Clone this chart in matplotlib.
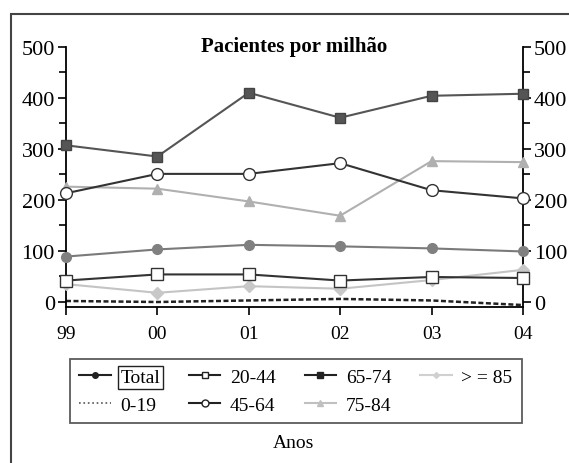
import numpy as np
import matplotlib.pyplot as plt
from matplotlib.patches import Rectangle
from matplotlib.lines import Line2D

plt.rcParams['font.family'] = ['Liberation Serif', 'DejaVu Serif']

years = ['99', '00', '01', '02', '03', '04']
total = [89, 103, 112, 109, 105, 99]
age_0_19 = [2, 0, 3, 6, 3, -6]
age_20_44 = [42, 54, 54, 42, 49, 47]
age_45_64 = [213, 251, 251, 272, 219, 203]
age_65_74 = [307, 285, 410, 361, 404, 408]
age_75_84 = [226, 222, 197, 169, 276, 274]
age_85 = [35, 18, 31, 26, 43, 63]

x = np.arange(len(years))

fig = plt.figure(figsize=(5.69, 4.64), dpi=100)
ax = fig.add_axes([0.116, 0.336, 0.803, 0.561])

ax.plot(x, age_0_19, '--', color='#222222', lw=1.8, dashes=(2, 1.0), label='0-19', zorder=2, clip_on=False)
ax.plot(x, age_85, '-', color='#c4c4c4', lw=1.5, marker='D', ms=6, mfc='#c8c8c8', mec='#c8c8c8', label='> = 85', zorder=3, clip_on=False)
ax.plot(x, age_20_44, '-', color='#333333', lw=1.5, marker='s', ms=8, mfc='white', mec='#333333', label='20-44', zorder=4, clip_on=False)
ax.plot(x, total, '-', color='#7a7a7a', lw=1.5, marker='o', ms=7, mfc='#808080', mec='#808080', label='Total', zorder=4, clip_on=False)
ax.plot(x, age_75_84, '-', color='#b0b0b0', lw=1.5, marker='^', ms=7, mfc='#b0b0b0', mec='#b0b0b0', label='75-84', zorder=3, clip_on=False)
ax.plot(x, age_45_64, '-', color='#333333', lw=1.5, marker='o', ms=8.5, mfc='white', mec='#333333', label='45-64', zorder=4, clip_on=False)
ax.plot(x, age_65_74, '-', color='#555555', lw=1.5, marker='s', ms=7.5, mfc='#555555', mec='#444444', label='65-74', zorder=4, clip_on=False)

ax.set_xlim(0, len(years) - 1)
ax.set_ylim(-10, 500)
ax.set_xticks(x)
ax.set_xticklabels(years, fontsize=14)
ax.set_yticks([0, 100, 200, 300, 400, 500])
ax.set_yticks([50, 150, 250, 350, 450], minor=True)
ax.tick_params(axis='y', labelsize=16, length=6, width=1.2, direction='out', pad=2)
ax.tick_params(axis='y', which='minor', length=5, width=1.2)
ax.tick_params(axis='x', length=6, width=1.2, direction='out', pad=7)
ax.tick_params(axis='y', left=True, right=True, labelleft=True, labelright=True, which='both')
ax.spines['top'].set_visible(False)
for s in ['left', 'right', 'bottom']:
    ax.spines[s].set_linewidth(1.3)

ax.set_title('Pacientes por milhão', fontsize=15, fontweight='bold', pad=2, y=0.975)

order = ['Total', '0-19', '20-44', '45-64', '65-74', '75-84', '> = 85']
leg_handles = [
    Line2D([], [], color='#222222', marker='o', ms=4, mfc='#222222'),
    Line2D([], [], color='#555555', ls=':', lw=1.2),
    Line2D([], [], color='#222222', marker='s', ms=5, mfc='white'),
    Line2D([], [], color='#222222', marker='o', ms=5, mfc='white'),
    Line2D([], [], color='#222222', marker='s', ms=5, mfc='#222222'),
    Line2D([], [], color='#c0c0c0', marker='^', ms=4, mfc='#c0c0c0'),
    Line2D([], [], color='#d0d0d0', marker='D', ms=3, mfc='#d0d0d0'),
]
leg = fig.legend(leg_handles, order, ncol=4, loc='center', bbox_to_anchor=(0.52, 0.155),
                 fontsize=14, frameon=True, fancybox=False, edgecolor='#333333',
                 handlelength=1.6, handletextpad=0.5, columnspacing=1.5, borderpad=0.5,
                 labelspacing=0.5)
leg.get_frame().set_linewidth(1.3)
leg.get_texts()[0].set_bbox(dict(facecolor='none', edgecolor='#222222', pad=2, lw=1))

fig.text(0.515, 0.045, 'Anos', ha='center', va='center', fontsize=14)

# outer frame
fig.add_artist(Rectangle((0.019, -0.1), 1.2, 1.068, transform=fig.transFigure,
                         fill=False, edgecolor='#444444', lw=1.5))

fig.savefig('out.png', dpi=100)
